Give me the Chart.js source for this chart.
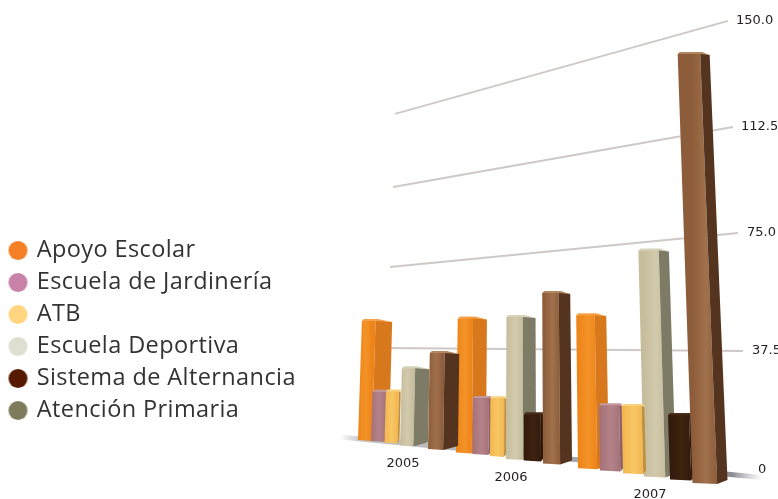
<!DOCTYPE html>
<html lang="es">
<head>
<meta charset="UTF-8">
<title>Programas 2005-2007</title>
<script src="https://cdn.jsdelivr.net/npm/chart.js"></script>
<style>
    html, body { margin: 0; padding: 0; background: #fff; overflow: hidden; }
    canvas { display: block; }
</style>
</head>
<body>
<canvas id="chart" width="778" height="499"></canvas>
<script>
    // values
    const years = ['2005', '2006', '2007'];
    const apoyoEscolar = [40, 45, 51.3];
    const escuelaJardineria = [16.7, 19, 22.1];
    const atb = [17.3, 19.6, 22.8];
    const escuelaDeportiva = [26, 47.6, 75.7];
    const sistemaAlternancia = [null, 15.8, 21.8];
    const atencionPrimaria = [32.3, 57.2, 143.3];

    const tickLabels = ['0', '37.5', '75.0', '112.5', '150.0'];
    // where each tick sits on the drawn (foreshortened) wall, left and right end
    const gridLeftValues = [11, 40.7, 67.7, 94.3, 118.7];
    const gridRightValues = [-2.5, 39.7, 79, 114.3, 149.7];

    // layout, x axis runs in canvas px
    const gridLeftX = [340, 388, 390, 393, 395];
    const gridRightX = [762, 743, 738, 733, 728];
    const labelGap = [-4, 9, 9, 8, 8];
    const labelRise = [8, 0, 0, 0, 0];
    const yearX = [403, 511, 650];
    const yearY = [2, -2.6, -8.3];
    const floorAt = x => (470 - (440 + (x - 373) * 0.1276)) / 3;

    const series = [
        { name: 'Apoyo Escolar', values: apoyoEscolar, legend: '#f58025', order: 6,
          centers: [373.5, 471, 593.5], widths: [31, 30, 31],
          faces: ['#ee8418', '#f39328', '#d7781c', '#f5a24a'] },
        { name: 'Escuela de Jardinería', values: escuelaJardineria, legend: '#c882a8', order: 4,
          centers: [380, 482, 612], widths: [18, 19, 24], share: 0.85,
          faces: ['#a47278', '#b48389', '#8d6067', '#c39aa0'] },
        { name: 'ATB', values: atb, legend: '#ffd580', order: 3,
          centers: [392, 498, 634.5], widths: [15, 16, 23], share: 0.88,
          faces: ['#f2b650', '#f8c765', '#c08f3c', '#f7d27f'] },
        { name: 'Escuela Deportiva', values: escuelaDeportiva, legend: '#dedfd0', order: 5,
          centers: [414, 521, 660], widths: [28, 30, 32],
          faces: ['#c6bd9d', '#d2caac', '#7d7a66', '#d8d2ba'] },
        { name: 'Sistema de Alternancia', values: sistemaAlternancia, legend: '#561a00', order: 2,
          centers: [534, 534, 682.5], widths: [20, 20, 25], share: 0.85,
          faces: ['#331a0b', '#3d2210', '#2a1508', '#4a2c18'] },
        { name: 'Atención Primaria', values: atencionPrimaria, legend: '#7d7b5c', order: 1,
          centers: [443, 557.5, 710], widths: [30, 29, 35],
          faces: ['#8d5c3a', '#a0714c', '#55341f', '#b3855f'] }
    ];

    const ctx = document.getElementById('chart').getContext('2d');

    // floor shadow fades out at both ends
    const floorShadow = ctx.createLinearGradient(340, 0, 762, 0);
    floorShadow.addColorStop(0, 'rgba(170,170,175,0)');
    floorShadow.addColorStop(0.05, 'rgba(170,170,175,0.7)');
    floorShadow.addColorStop(0.93, 'rgba(140,140,148,1)');
    floorShadow.addColorStop(1, 'rgba(170,170,175,0)');

    const barDatasets = series.map(s => ({
        type: 'bar',
        label: s.name,
        order: s.order,
        grouped: false,
        backgroundColor: s.legend,
        borderColor: s.legend,
        faces: s.faces,
        widths: s.widths,
        share: s.share,
        data: s.values.map((v, i) => {
            const g = floorAt(s.centers[i]);
            return { x: s.centers[i], y: v === null ? null : [g, g + v] };
        })
    }));

    const gridDatasets = tickLabels.map((t, i) => ({
        type: 'line',
        label: 'grid ' + t,
        tick: t,
        gap: labelGap[i],
        rise: labelRise[i],
        order: 10 + i,
        borderColor: i === 0 ? floorShadow : '#cfc9c6',
        borderWidth: i === 0 ? 5 : 2,
        pointRadius: 0,
        data: [
            { x: gridLeftX[i], y: gridLeftValues[i] },
            { x: gridRightX[i], y: gridRightValues[i] }
        ]
    }));

    function faceGradient(x0, x1, c0, c1, c2) {
        const g = ctx.createLinearGradient(x0, 0, x1, 0);
        g.addColorStop(0, c0);
        g.addColorStop(0.55, c1);
        g.addColorStop(1, c2);
        return g;
    }

    function poly(pts, fill) {
        ctx.beginPath();
        pts.forEach((p, i) => i ? ctx.lineTo(p[0], p[1]) : ctx.moveTo(p[0], p[1]));
        ctx.closePath();
        ctx.fillStyle = fill;
        ctx.fill();
    }

    function dot(color) {
        const c = document.createElement('canvas');
        c.width = 21;
        c.height = 21;
        const d = c.getContext('2d');
        d.fillStyle = color;
        d.arc(10.5, 10.5, 9.5, 0, Math.PI * 2);
        d.fill();
        return c;
    }

    // bars lean towards a vanishing point and show a side face
    const bars3d = {
        id: 'bars3d',
        beforeDatasetDraw(chart, args) {
            const ds = chart.data.datasets[args.index];
            if (ds.type !== 'bar') return;
            args.meta.data.forEach((el, i) => {
                if (ds.data[i].y === null) return;
                const h = el.base - el.y;
                const w = ds.widths[i];
                const lean = x => x + (520 - x) * 0.0002 * h;
                const x0 = el.x - w / 2, x1 = el.x + w / 2;
                const share = ds.share || 0.45 + (el.x - 370) * 0.00075;
                const xm = x0 + w * share;
                const f = ds.faces;
                poly([[x0, el.base], [xm, el.base + 1], [lean(xm), el.y], [lean(x0), el.y + 1]],
                    faceGradient(x0, xm, f[0], f[1], f[0]));
                poly([[xm, el.base + 1], [x1, el.base - 3], [lean(x1), el.y + 2], [lean(xm), el.y]],
                    f[2]);
                poly([[lean(x0), el.y + 1], [lean(xm), el.y + 1], [lean(x1), el.y + 2], [lean(xm) + 2, el.y - 1], [lean(x0) + 2, el.y - 1]], f[3]);
            });
            return false;
        }
    };

    const wallLabels = {
        id: 'wallLabels',
        afterLayout(chart) {
            const lg = chart.legend;
            lg.top += 81;
            lg.bottom += 81;
            lg.left += 2.5;
        },
        beforeDraw(chart) {
            chart.ctx.letterSpacing = '0.4px';
        },
        afterDraw(chart) {
            const { x: xs, y: ys } = chart.scales;
            ctx.save();
            ctx.letterSpacing = '0px';
            ctx.font = '13px "DejaVu Sans"';
            ctx.fillStyle = '#231f20';
            ctx.textBaseline = 'middle';
            ctx.textAlign = 'left';
            chart.data.datasets.forEach((ds, i) => {
                if (ds.type !== 'line') return;
                const p = chart.getDatasetMeta(i).data[1];
                ctx.fillText(ds.tick, p.x + ds.gap, p.y - ds.rise);
            });
            ctx.textAlign = 'center';
            years.forEach((y, i) => {
                ctx.fillText(y, xs.getPixelForValue(yearX[i]), ys.getPixelForValue(yearY[i]));
            });
            ctx.restore();
        }
    };

    new Chart(ctx, {
        data: { datasets: barDatasets.concat(gridDatasets) },
        plugins: [bars3d, wallLabels],
        options: {
            responsive: false,
            animation: false,
            layout: { padding: 0 },
            scales: {
                x: { type: 'linear', min: 0, max: 778, offset: false, display: false },
                y: { min: -29 / 3, max: 470 / 3, display: false }
            },
            plugins: {
                tooltip: { enabled: false },
                legend: {
                    position: 'chartArea',
                    align: 'center',
                    labels: {
                        font: { family: '"Open Sans"', size: 23.5 },
                        color: '#333333',
                        usePointStyle: true,
                        boxHeight: 13.4,
                        pointStyleWidth: 14,
                        padding: 8.5,
                        filter: item => item.datasetIndex < 6,
                        sort: (a, b) => a.datasetIndex - b.datasetIndex,
                        generateLabels(chart) {
                            const items = Chart.defaults.plugins.legend.labels.generateLabels(chart);
                            items.forEach(it => { it.pointStyle = dot(it.fillStyle); });
                            return items;
                        }
                    }
                }
            }
        }
    });
</script>
</body>
</html>
